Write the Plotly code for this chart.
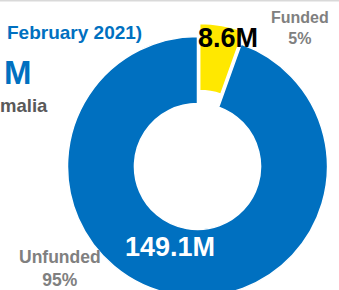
import plotly.graph_objects as go

# ---- data ----
categories = ["Funded", "Unfunded"]
values_musd = [8.6, 149.1]
title_fragment = "February 2021)"
total_fragment = "M"
country_fragment = "malia"

BLUE = "#0070C0"
YELLOW = "#FFE800"
GRAY = "#808080"
DARKGRAY = "#595959"
FONT = "Liberation Sans, Arial, sans-serif"

W, H = 339, 300

def px(x):
    return x / W

def py(y):
    return 1 - y / H

total = sum(values_musd)
pcts = [round(v / total * 100) for v in values_musd]

# ring geometry (pixels)
cx, cy, R = 197.5, 166.5, 130
pull_dx, pull_dy = 2.2, -13

fig = go.Figure()

# Unfunded ring (funded slice left empty)
fig.add_trace(go.Pie(
    labels=categories, values=values_musd, hole=0.485, sort=False,
    direction="clockwise", rotation=0, textinfo="none", hoverinfo="label+value",
    marker=dict(colors=["rgba(0,0,0,0)", BLUE],
                line=dict(color="white", width=[0, 1.5])),
    domain=dict(x=[px(cx - R), px(cx + R)], y=[py(cy + R), py(cy - R)]),
    showlegend=False,
))

# Funded slice, pulled out
fig.add_trace(go.Pie(
    labels=categories, values=values_musd, hole=0.485, sort=False,
    direction="clockwise", rotation=0, textinfo="none", hoverinfo="label+value",
    marker=dict(colors=[YELLOW, "rgba(0,0,0,0)"],
                line=dict(color="white", width=[1.5, 0])),
    domain=dict(x=[px(cx - R + pull_dx), px(cx + R + pull_dx)],
                y=[py(cy + R + pull_dy), py(cy - R + pull_dy)]),
    showlegend=False,
))

def ann(text, x, y, size, color, xanchor="center", yanchor="middle"):
    fig.add_annotation(
        text=text, x=px(x), y=py(y), xref="paper", yref="paper",
        xanchor=xanchor, yanchor=yanchor, showarrow=False, align="center",
        font=dict(family=FONT, size=size, color=color, weight="bold"),
    )

ann(f"{values_musd[0]}M", 228, 38, 27, "black")
ann(f"{values_musd[1]}M", 170, 247, 27, "white")
ann(f"{categories[0]}<br>{pcts[0]}%", 299.5, 27.5, 16, GRAY)
ann(f"{categories[1]}<br>{pcts[1]}%", 60, 268.5, 17.5, GRAY)

ann(title_fragment, 5, 32, 19, BLUE, xanchor="left")
ann(total_fragment, 2, 72, 33, BLUE, xanchor="left")
ann(country_fragment, -2, 106, 18.5, DARKGRAY, xanchor="left")

fig.add_shape(type="rect", xref="paper", yref="paper",
              x0=0, x1=1, y0=py(1.5), y1=1,
              fillcolor="#D9D9D9", line=dict(width=0), layer="below")

fig.update_layout(
    width=W, height=H,
    margin=dict(l=0, r=0, t=0, b=0),
    paper_bgcolor="white", plot_bgcolor="white",
)

fig.write_html("out.html",
               config={"displayModeBar": False},
               post_script="document.body.style.margin='0';document.body.style.overflow='hidden';")
